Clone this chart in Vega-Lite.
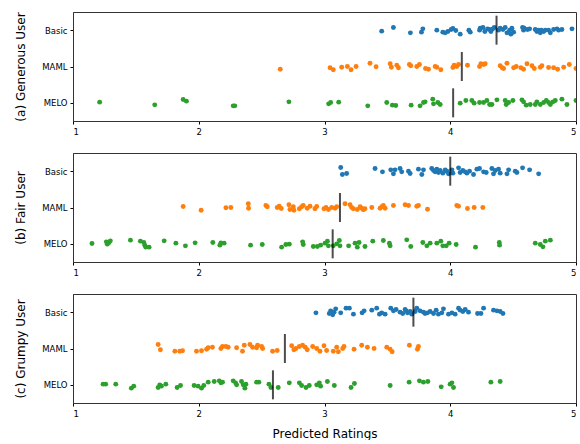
{
"$schema": "https://vega.github.io/schema/vega-lite/v6.json",
"padding": {"left": 14, "top": 11, "right": 4, "bottom": 0},
"background": "white",
"datasets": {
"means": [
{"user":"Generous","model":"Basic","mean":4.368},{"user":"Generous","model":"MAML","mean":4.092},{"user":"Generous","model":"MELO","mean":4.023},
{"user":"Fair","model":"Basic","mean":4.0},{"user":"Fair","model":"MAML","mean":3.123},{"user":"Fair","model":"MELO","mean":3.065},
{"user":"Grumpy","model":"Basic","mean":3.707},{"user":"Grumpy","model":"MAML","mean":2.685},{"user":"Grumpy","model":"MELO","mean":2.59}
],
"pts": [
{"user":"Generous","model":"Basic","rating":3.455,"jitter":0.25},
{"user":"Generous","model":"Basic","rating":3.548,"jitter":-0.67},
{"user":"Generous","model":"Basic","rating":3.683,"jitter":0.67},
{"user":"Generous","model":"Basic","rating":3.771,"jitter":0.5},
{"user":"Generous","model":"Basic","rating":3.782,"jitter":-0.33},
{"user":"Generous","model":"Basic","rating":3.893,"jitter":0},
{"user":"Generous","model":"Basic","rating":3.941,"jitter":0.5},
{"user":"Generous","model":"Basic","rating":3.96,"jitter":0.67},
{"user":"Generous","model":"Basic","rating":3.981,"jitter":0.33},
{"user":"Generous","model":"Basic","rating":4.007,"jitter":-0.17},
{"user":"Generous","model":"Basic","rating":4.021,"jitter":-0.42},
{"user":"Generous","model":"Basic","rating":4.044,"jitter":0.08},
{"user":"Generous","model":"Basic","rating":4.079,"jitter":1.0},
{"user":"Generous","model":"Basic","rating":4.148,"jitter":0},
{"user":"Generous","model":"Basic","rating":4.159,"jitter":0.5},
{"user":"Generous","model":"Basic","rating":4.233,"jitter":0},
{"user":"Generous","model":"Basic","rating":4.238,"jitter":-0.5},
{"user":"Generous","model":"Basic","rating":4.26,"jitter":-0.67},
{"user":"Generous","model":"Basic","rating":4.275,"jitter":0.33},
{"user":"Generous","model":"Basic","rating":4.297,"jitter":-0.33},
{"user":"Generous","model":"Basic","rating":4.313,"jitter":-0.17},
{"user":"Generous","model":"Basic","rating":4.323,"jitter":0.33},
{"user":"Generous","model":"Basic","rating":4.339,"jitter":-0.33},
{"user":"Generous","model":"Basic","rating":4.35,"jitter":-0.67},
{"user":"Generous","model":"Basic","rating":4.384,"jitter":0},
{"user":"Generous","model":"Basic","rating":4.397,"jitter":-0.5},
{"user":"Generous","model":"Basic","rating":4.419,"jitter":-0.17},
{"user":"Generous","model":"Basic","rating":4.437,"jitter":-0.67},
{"user":"Generous","model":"Basic","rating":4.451,"jitter":0.67},
{"user":"Generous","model":"Basic","rating":4.472,"jitter":0},
{"user":"Generous","model":"Basic","rating":4.482,"jitter":1.0},
{"user":"Generous","model":"Basic","rating":4.49,"jitter":-0.5},
{"user":"Generous","model":"Basic","rating":4.504,"jitter":0.5},
{"user":"Generous","model":"Basic","rating":4.575,"jitter":-0.67},
{"user":"Generous","model":"Basic","rating":4.583,"jitter":0},
{"user":"Generous","model":"Basic","rating":4.588,"jitter":-0.5},
{"user":"Generous","model":"Basic","rating":4.615,"jitter":-0.17},
{"user":"Generous","model":"Basic","rating":4.631,"jitter":-0.33},
{"user":"Generous","model":"Basic","rating":4.676,"jitter":-0.17},
{"user":"Generous","model":"Basic","rating":4.689,"jitter":0.33},
{"user":"Generous","model":"Basic","rating":4.703,"jitter":0},
{"user":"Generous","model":"Basic","rating":4.716,"jitter":0.67},
{"user":"Generous","model":"Basic","rating":4.724,"jitter":0},
{"user":"Generous","model":"Basic","rating":4.743,"jitter":0.33},
{"user":"Generous","model":"Basic","rating":4.756,"jitter":0},
{"user":"Generous","model":"Basic","rating":4.782,"jitter":0},
{"user":"Generous","model":"Basic","rating":4.796,"jitter":0.67},
{"user":"Generous","model":"Basic","rating":4.822,"jitter":-0.17},
{"user":"Generous","model":"Basic","rating":4.849,"jitter":-0.33},
{"user":"Generous","model":"Basic","rating":4.862,"jitter":0},
{"user":"Generous","model":"Basic","rating":4.888,"jitter":-0.17},
{"user":"Generous","model":"Basic","rating":4.968,"jitter":-0.33},
{"user":"Generous","model":"MAML","rating":2.648,"jitter":0.67},
{"user":"Generous","model":"MAML","rating":3.044,"jitter":0.33},
{"user":"Generous","model":"MAML","rating":3.07,"jitter":0.83},
{"user":"Generous","model":"MAML","rating":3.137,"jitter":0.17},
{"user":"Generous","model":"MAML","rating":3.182,"jitter":0},
{"user":"Generous","model":"MAML","rating":3.211,"jitter":0.83},
{"user":"Generous","model":"MAML","rating":3.251,"jitter":0},
{"user":"Generous","model":"MAML","rating":3.362,"jitter":-0.83},
{"user":"Generous","model":"MAML","rating":3.41,"jitter":0.08},
{"user":"Generous","model":"MAML","rating":3.522,"jitter":-0.67},
{"user":"Generous","model":"MAML","rating":3.532,"jitter":0.17},
{"user":"Generous","model":"MAML","rating":3.575,"jitter":-0.33},
{"user":"Generous","model":"MAML","rating":3.588,"jitter":0.33},
{"user":"Generous","model":"MAML","rating":3.675,"jitter":-0.5},
{"user":"Generous","model":"MAML","rating":3.686,"jitter":-0.17},
{"user":"Generous","model":"MAML","rating":3.734,"jitter":0},
{"user":"Generous","model":"MAML","rating":3.755,"jitter":-0.5},
{"user":"Generous","model":"MAML","rating":3.803,"jitter":0.5},
{"user":"Generous","model":"MAML","rating":3.827,"jitter":0.67},
{"user":"Generous","model":"MAML","rating":3.88,"jitter":0},
{"user":"Generous","model":"MAML","rating":3.893,"jitter":0.17},
{"user":"Generous","model":"MAML","rating":3.925,"jitter":0.83},
{"user":"Generous","model":"MAML","rating":4.021,"jitter":0.25},
{"user":"Generous","model":"MAML","rating":4.031,"jitter":-0.33},
{"user":"Generous","model":"MAML","rating":4.052,"jitter":0},
{"user":"Generous","model":"MAML","rating":4.066,"jitter":-0.5},
{"user":"Generous","model":"MAML","rating":4.137,"jitter":-0.33},
{"user":"Generous","model":"MAML","rating":4.233,"jitter":0},
{"user":"Generous","model":"MAML","rating":4.244,"jitter":-0.67},
{"user":"Generous","model":"MAML","rating":4.265,"jitter":-0.5},
{"user":"Generous","model":"MAML","rating":4.278,"jitter":-0.67},
{"user":"Generous","model":"MAML","rating":4.397,"jitter":-0.17},
{"user":"Generous","model":"MAML","rating":4.413,"jitter":0.33},
{"user":"Generous","model":"MAML","rating":4.424,"jitter":0.5},
{"user":"Generous","model":"MAML","rating":4.451,"jitter":-0.83},
{"user":"Generous","model":"MAML","rating":4.504,"jitter":0.33},
{"user":"Generous","model":"MAML","rating":4.525,"jitter":0},
{"user":"Generous","model":"MAML","rating":4.562,"jitter":0.33},
{"user":"Generous","model":"MAML","rating":4.583,"jitter":0.67},
{"user":"Generous","model":"MAML","rating":4.61,"jitter":-0.67},
{"user":"Generous","model":"MAML","rating":4.65,"jitter":-0.17},
{"user":"Generous","model":"MAML","rating":4.668,"jitter":0.5},
{"user":"Generous","model":"MAML","rating":4.716,"jitter":0.17},
{"user":"Generous","model":"MAML","rating":4.729,"jitter":-0.17},
{"user":"Generous","model":"MAML","rating":4.782,"jitter":0.25},
{"user":"Generous","model":"MAML","rating":4.822,"jitter":0.33},
{"user":"Generous","model":"MAML","rating":4.854,"jitter":0.67},
{"user":"Generous","model":"MAML","rating":4.902,"jitter":0.17},
{"user":"Generous","model":"MAML","rating":4.947,"jitter":-0.5},
{"user":"Generous","model":"MAML","rating":5.0,"jitter":0.5},
{"user":"Generous","model":"MELO","rating":1.212,"jitter":-0.17},
{"user":"Generous","model":"MELO","rating":1.65,"jitter":0.5},
{"user":"Generous","model":"MELO","rating":1.876,"jitter":-0.83},
{"user":"Generous","model":"MELO","rating":1.902,"jitter":-0.42},
{"user":"Generous","model":"MELO","rating":2.274,"jitter":0.75},
{"user":"Generous","model":"MELO","rating":2.287,"jitter":0.75},
{"user":"Generous","model":"MELO","rating":2.717,"jitter":-0.25},
{"user":"Generous","model":"MELO","rating":3.033,"jitter":0.25},
{"user":"Generous","model":"MELO","rating":3.049,"jitter":-0.08},
{"user":"Generous","model":"MELO","rating":3.113,"jitter":-0.17},
{"user":"Generous","model":"MELO","rating":3.344,"jitter":0.75},
{"user":"Generous","model":"MELO","rating":3.495,"jitter":-0.08},
{"user":"Generous","model":"MELO","rating":3.54,"jitter":0.58},
{"user":"Generous","model":"MELO","rating":3.567,"jitter":0.67},
{"user":"Generous","model":"MELO","rating":3.689,"jitter":0.58},
{"user":"Generous","model":"MELO","rating":3.76,"jitter":0.75},
{"user":"Generous","model":"MELO","rating":3.787,"jitter":-0.08},
{"user":"Generous","model":"MELO","rating":3.8,"jitter":-0.25},
{"user":"Generous","model":"MELO","rating":3.861,"jitter":-0.92},
{"user":"Generous","model":"MELO","rating":3.867,"jitter":0.25},
{"user":"Generous","model":"MELO","rating":3.901,"jitter":-0.08},
{"user":"Generous","model":"MELO","rating":3.92,"jitter":0.42},
{"user":"Generous","model":"MELO","rating":4.079,"jitter":0.08},
{"user":"Generous","model":"MELO","rating":4.124,"jitter":-0.58},
{"user":"Generous","model":"MELO","rating":4.172,"jitter":-0.58},
{"user":"Generous","model":"MELO","rating":4.19,"jitter":0.08},
{"user":"Generous","model":"MELO","rating":4.233,"jitter":-0.08},
{"user":"Generous","model":"MELO","rating":4.265,"jitter":-0.08},
{"user":"Generous","model":"MELO","rating":4.291,"jitter":-0.58},
{"user":"Generous","model":"MELO","rating":4.313,"jitter":0.42},
{"user":"Generous","model":"MELO","rating":4.331,"jitter":0.42},
{"user":"Generous","model":"MELO","rating":4.371,"jitter":-0.75},
{"user":"Generous","model":"MELO","rating":4.437,"jitter":-0.58},
{"user":"Generous","model":"MELO","rating":4.445,"jitter":0.42},
{"user":"Generous","model":"MELO","rating":4.464,"jitter":-0.08},
{"user":"Generous","model":"MELO","rating":4.498,"jitter":-0.58},
{"user":"Generous","model":"MELO","rating":4.57,"jitter":-0.75},
{"user":"Generous","model":"MELO","rating":4.583,"jitter":-0.25},
{"user":"Generous","model":"MELO","rating":4.604,"jitter":0.58},
{"user":"Generous","model":"MELO","rating":4.636,"jitter":0.42},
{"user":"Generous","model":"MELO","rating":4.676,"jitter":0.42},
{"user":"Generous","model":"MELO","rating":4.689,"jitter":-0.25},
{"user":"Generous","model":"MELO","rating":4.716,"jitter":0.42},
{"user":"Generous","model":"MELO","rating":4.743,"jitter":-0.08},
{"user":"Generous","model":"MELO","rating":4.764,"jitter":-0.58},
{"user":"Generous","model":"MELO","rating":4.782,"jitter":-0.08},
{"user":"Generous","model":"MELO","rating":4.796,"jitter":0.42},
{"user":"Generous","model":"MELO","rating":4.817,"jitter":-0.25},
{"user":"Generous","model":"MELO","rating":4.835,"jitter":-0.58},
{"user":"Generous","model":"MELO","rating":4.888,"jitter":-0.92},
{"user":"Generous","model":"MELO","rating":4.928,"jitter":0.42},
{"user":"Generous","model":"MELO","rating":5.0,"jitter":-0.58},
{"user":"Fair","model":"Basic","rating":3.129,"jitter":-0.92},
{"user":"Fair","model":"Basic","rating":3.142,"jitter":0.83},
{"user":"Fair","model":"Basic","rating":3.176,"jitter":0.58},
{"user":"Fair","model":"Basic","rating":3.402,"jitter":-0.67},
{"user":"Fair","model":"Basic","rating":3.461,"jitter":0.17},
{"user":"Fair","model":"Basic","rating":3.527,"jitter":-0.33},
{"user":"Fair","model":"Basic","rating":3.548,"jitter":0.67},
{"user":"Fair","model":"Basic","rating":3.561,"jitter":-0.33},
{"user":"Fair","model":"Basic","rating":3.601,"jitter":-0.67},
{"user":"Fair","model":"Basic","rating":3.614,"jitter":0.17},
{"user":"Fair","model":"Basic","rating":3.668,"jitter":0},
{"user":"Fair","model":"Basic","rating":3.681,"jitter":0.58},
{"user":"Fair","model":"Basic","rating":3.747,"jitter":-0.5},
{"user":"Fair","model":"Basic","rating":3.774,"jitter":0.83},
{"user":"Fair","model":"Basic","rating":3.787,"jitter":-0.33},
{"user":"Fair","model":"Basic","rating":3.853,"jitter":-0.67},
{"user":"Fair","model":"Basic","rating":3.867,"jitter":-0.17},
{"user":"Fair","model":"Basic","rating":3.88,"jitter":0.17},
{"user":"Fair","model":"Basic","rating":3.893,"jitter":-0.5},
{"user":"Fair","model":"Basic","rating":3.906,"jitter":0.33},
{"user":"Fair","model":"Basic","rating":3.92,"jitter":-0.17},
{"user":"Fair","model":"Basic","rating":3.941,"jitter":0.5},
{"user":"Fair","model":"Basic","rating":3.96,"jitter":-0.33},
{"user":"Fair","model":"Basic","rating":3.973,"jitter":0},
{"user":"Fair","model":"Basic","rating":3.986,"jitter":0.67},
{"user":"Fair","model":"Basic","rating":4.013,"jitter":-0.33},
{"user":"Fair","model":"Basic","rating":4.021,"jitter":0.5},
{"user":"Fair","model":"Basic","rating":4.066,"jitter":-0.83},
{"user":"Fair","model":"Basic","rating":4.079,"jitter":0.33},
{"user":"Fair","model":"Basic","rating":4.1,"jitter":-0.17},
{"user":"Fair","model":"Basic","rating":4.119,"jitter":0.17},
{"user":"Fair","model":"Basic","rating":4.132,"jitter":0.5},
{"user":"Fair","model":"Basic","rating":4.153,"jitter":0},
{"user":"Fair","model":"Basic","rating":4.185,"jitter":0.83},
{"user":"Fair","model":"Basic","rating":4.212,"jitter":-0.5},
{"user":"Fair","model":"Basic","rating":4.233,"jitter":-0.67},
{"user":"Fair","model":"Basic","rating":4.265,"jitter":0.17},
{"user":"Fair","model":"Basic","rating":4.286,"jitter":0.33},
{"user":"Fair","model":"Basic","rating":4.331,"jitter":-0.67},
{"user":"Fair","model":"Basic","rating":4.344,"jitter":0.67},
{"user":"Fair","model":"Basic","rating":4.358,"jitter":-0.17},
{"user":"Fair","model":"Basic","rating":4.384,"jitter":-0.5},
{"user":"Fair","model":"Basic","rating":4.397,"jitter":0.5},
{"user":"Fair","model":"Basic","rating":4.451,"jitter":0.67},
{"user":"Fair","model":"Basic","rating":4.464,"jitter":-0.33},
{"user":"Fair","model":"Basic","rating":4.517,"jitter":0},
{"user":"Fair","model":"Basic","rating":4.53,"jitter":0.33},
{"user":"Fair","model":"Basic","rating":4.575,"jitter":-0.83},
{"user":"Fair","model":"Basic","rating":4.631,"jitter":-0.33},
{"user":"Fair","model":"Basic","rating":4.703,"jitter":0.67},
{"user":"Fair","model":"MAML","rating":1.876,"jitter":-0.25},
{"user":"Fair","model":"MAML","rating":2.019,"jitter":0.67},
{"user":"Fair","model":"MAML","rating":2.216,"jitter":0.08},
{"user":"Fair","model":"MAML","rating":2.255,"jitter":0},
{"user":"Fair","model":"MAML","rating":2.394,"jitter":-0.92},
{"user":"Fair","model":"MAML","rating":2.396,"jitter":0.17},
{"user":"Fair","model":"MAML","rating":2.534,"jitter":-0.5},
{"user":"Fair","model":"MAML","rating":2.545,"jitter":-0.17},
{"user":"Fair","model":"MAML","rating":2.624,"jitter":0},
{"user":"Fair","model":"MAML","rating":2.64,"jitter":-0.33},
{"user":"Fair","model":"MAML","rating":2.656,"jitter":0.25},
{"user":"Fair","model":"MAML","rating":2.717,"jitter":-0.67},
{"user":"Fair","model":"MAML","rating":2.725,"jitter":0.5},
{"user":"Fair","model":"MAML","rating":2.752,"jitter":-0.17},
{"user":"Fair","model":"MAML","rating":2.757,"jitter":0.67},
{"user":"Fair","model":"MAML","rating":2.8,"jitter":0.33},
{"user":"Fair","model":"MAML","rating":2.818,"jitter":-0.17},
{"user":"Fair","model":"MAML","rating":2.831,"jitter":-0.5},
{"user":"Fair","model":"MAML","rating":2.863,"jitter":0.17},
{"user":"Fair","model":"MAML","rating":2.885,"jitter":-0.33},
{"user":"Fair","model":"MAML","rating":2.924,"jitter":0.33},
{"user":"Fair","model":"MAML","rating":2.938,"jitter":-0.25},
{"user":"Fair","model":"MAML","rating":2.996,"jitter":0.33},
{"user":"Fair","model":"MAML","rating":3.012,"jitter":0},
{"user":"Fair","model":"MAML","rating":3.031,"jitter":0.5},
{"user":"Fair","model":"MAML","rating":3.057,"jitter":0},
{"user":"Fair","model":"MAML","rating":3.084,"jitter":0.17},
{"user":"Fair","model":"MAML","rating":3.097,"jitter":-0.17},
{"user":"Fair","model":"MAML","rating":3.163,"jitter":-0.92},
{"user":"Fair","model":"MAML","rating":3.203,"jitter":-0.67},
{"user":"Fair","model":"MAML","rating":3.216,"jitter":0},
{"user":"Fair","model":"MAML","rating":3.23,"jitter":0.33},
{"user":"Fair","model":"MAML","rating":3.261,"jitter":0.5},
{"user":"Fair","model":"MAML","rating":3.283,"jitter":-0.17},
{"user":"Fair","model":"MAML","rating":3.296,"jitter":0.17},
{"user":"Fair","model":"MAML","rating":3.309,"jitter":0.58},
{"user":"Fair","model":"MAML","rating":3.322,"jitter":0.33},
{"user":"Fair","model":"MAML","rating":3.376,"jitter":0},
{"user":"Fair","model":"MAML","rating":3.442,"jitter":0.17},
{"user":"Fair","model":"MAML","rating":3.455,"jitter":-0.17},
{"user":"Fair","model":"MAML","rating":3.468,"jitter":-0.5},
{"user":"Fair","model":"MAML","rating":3.482,"jitter":0.17},
{"user":"Fair","model":"MAML","rating":3.548,"jitter":-0.5},
{"user":"Fair","model":"MAML","rating":3.641,"jitter":-0.67},
{"user":"Fair","model":"MAML","rating":3.668,"jitter":-0.5},
{"user":"Fair","model":"MAML","rating":3.734,"jitter":-0.33},
{"user":"Fair","model":"MAML","rating":3.747,"jitter":-0.5},
{"user":"Fair","model":"MAML","rating":3.819,"jitter":0.42},
{"user":"Fair","model":"MAML","rating":4.052,"jitter":-0.5},
{"user":"Fair","model":"MAML","rating":4.066,"jitter":-0.33},
{"user":"Fair","model":"MAML","rating":4.137,"jitter":0.25},
{"user":"Fair","model":"MAML","rating":4.19,"jitter":0},
{"user":"Fair","model":"MAML","rating":4.259,"jitter":0},
{"user":"Fair","model":"MELO","rating":1.151,"jitter":-0.08},
{"user":"Fair","model":"MELO","rating":1.265,"jitter":-0.5},
{"user":"Fair","model":"MELO","rating":1.273,"jitter":0.08},
{"user":"Fair","model":"MELO","rating":1.287,"jitter":-0.33},
{"user":"Fair","model":"MELO","rating":1.297,"jitter":-0.75},
{"user":"Fair","model":"MELO","rating":1.457,"jitter":-0.92},
{"user":"Fair","model":"MELO","rating":1.536,"jitter":-0.67},
{"user":"Fair","model":"MELO","rating":1.563,"jitter":-0.33},
{"user":"Fair","model":"MELO","rating":1.571,"jitter":0.33},
{"user":"Fair","model":"MELO","rating":1.579,"jitter":0.83},
{"user":"Fair","model":"MELO","rating":1.605,"jitter":0.83},
{"user":"Fair","model":"MELO","rating":1.725,"jitter":-0.75},
{"user":"Fair","model":"MELO","rating":1.818,"jitter":-0.17},
{"user":"Fair","model":"MELO","rating":1.894,"jitter":0.5},
{"user":"Fair","model":"MELO","rating":1.971,"jitter":-0.25},
{"user":"Fair","model":"MELO","rating":2.112,"jitter":-0.33},
{"user":"Fair","model":"MELO","rating":2.168,"jitter":0.33},
{"user":"Fair","model":"MELO","rating":2.176,"jitter":-0.25},
{"user":"Fair","model":"MELO","rating":2.202,"jitter":-0.17},
{"user":"Fair","model":"MELO","rating":2.412,"jitter":0.33},
{"user":"Fair","model":"MELO","rating":2.505,"jitter":0.17},
{"user":"Fair","model":"MELO","rating":2.659,"jitter":0.83},
{"user":"Fair","model":"MELO","rating":2.693,"jitter":0.17},
{"user":"Fair","model":"MELO","rating":2.72,"jitter":0.08},
{"user":"Fair","model":"MELO","rating":2.826,"jitter":-0.5},
{"user":"Fair","model":"MELO","rating":2.831,"jitter":0.17},
{"user":"Fair","model":"MELO","rating":2.911,"jitter":0.67},
{"user":"Fair","model":"MELO","rating":2.943,"jitter":0.67},
{"user":"Fair","model":"MELO","rating":2.969,"jitter":0.33},
{"user":"Fair","model":"MELO","rating":3.004,"jitter":-0.17},
{"user":"Fair","model":"MELO","rating":3.023,"jitter":-0.67},
{"user":"Fair","model":"MELO","rating":3.031,"jitter":0.5},
{"user":"Fair","model":"MELO","rating":3.07,"jitter":0.5},
{"user":"Fair","model":"MELO","rating":3.097,"jitter":0},
{"user":"Fair","model":"MELO","rating":3.118,"jitter":-0.83},
{"user":"Fair","model":"MELO","rating":3.123,"jitter":0.5},
{"user":"Fair","model":"MELO","rating":3.192,"jitter":0.5},
{"user":"Fair","model":"MELO","rating":3.243,"jitter":-0.17},
{"user":"Fair","model":"MELO","rating":3.261,"jitter":0.83},
{"user":"Fair","model":"MELO","rating":3.275,"jitter":-0.33},
{"user":"Fair","model":"MELO","rating":3.322,"jitter":0.67},
{"user":"Fair","model":"MELO","rating":3.384,"jitter":-0.67},
{"user":"Fair","model":"MELO","rating":3.468,"jitter":-0.83},
{"user":"Fair","model":"MELO","rating":3.516,"jitter":-0.17},
{"user":"Fair","model":"MELO","rating":3.522,"jitter":0.5},
{"user":"Fair","model":"MELO","rating":3.654,"jitter":-1.0},
{"user":"Fair","model":"MELO","rating":3.686,"jitter":0.67},
{"user":"Fair","model":"MELO","rating":3.782,"jitter":-0.33},
{"user":"Fair","model":"MELO","rating":3.814,"jitter":0.5},
{"user":"Fair","model":"MELO","rating":3.84,"jitter":-0.17},
{"user":"Fair","model":"MELO","rating":3.893,"jitter":-0.17},
{"user":"Fair","model":"MELO","rating":3.925,"jitter":-0.67},
{"user":"Fair","model":"MELO","rating":3.941,"jitter":0.5},
{"user":"Fair","model":"MELO","rating":3.968,"jitter":0.5},
{"user":"Fair","model":"MELO","rating":3.991,"jitter":-0.17},
{"user":"Fair","model":"MELO","rating":4.047,"jitter":0.17},
{"user":"Fair","model":"MELO","rating":4.201,"jitter":0.83},
{"user":"Fair","model":"MELO","rating":4.39,"jitter":-0.33},
{"user":"Fair","model":"MELO","rating":4.392,"jitter":0.33},
{"user":"Fair","model":"MELO","rating":4.676,"jitter":-0.17},
{"user":"Fair","model":"MELO","rating":4.716,"jitter":0.17},
{"user":"Fair","model":"MELO","rating":4.737,"jitter":0.75},
{"user":"Fair","model":"MELO","rating":4.756,"jitter":-0.67},
{"user":"Fair","model":"MELO","rating":4.796,"jitter":-0.92},
{"user":"Grumpy","model":"Basic","rating":2.932,"jitter":0.17},
{"user":"Grumpy","model":"Basic","rating":3.038,"jitter":0.33},
{"user":"Grumpy","model":"Basic","rating":3.049,"jitter":-0.33},
{"user":"Grumpy","model":"Basic","rating":3.065,"jitter":0.67},
{"user":"Grumpy","model":"Basic","rating":3.076,"jitter":0},
{"user":"Grumpy","model":"Basic","rating":3.089,"jitter":-0.83},
{"user":"Grumpy","model":"Basic","rating":3.129,"jitter":0.17},
{"user":"Grumpy","model":"Basic","rating":3.171,"jitter":-1.0},
{"user":"Grumpy","model":"Basic","rating":3.198,"jitter":-1.0},
{"user":"Grumpy","model":"Basic","rating":3.23,"jitter":0.5},
{"user":"Grumpy","model":"Basic","rating":3.299,"jitter":0.17},
{"user":"Grumpy","model":"Basic","rating":3.315,"jitter":-0.33},
{"user":"Grumpy","model":"Basic","rating":3.376,"jitter":-0.5},
{"user":"Grumpy","model":"Basic","rating":3.415,"jitter":-1.0},
{"user":"Grumpy","model":"Basic","rating":3.437,"jitter":0.5},
{"user":"Grumpy","model":"Basic","rating":3.455,"jitter":0.17},
{"user":"Grumpy","model":"Basic","rating":3.482,"jitter":0.5},
{"user":"Grumpy","model":"Basic","rating":3.527,"jitter":-1.0},
{"user":"Grumpy","model":"Basic","rating":3.548,"jitter":-0.33},
{"user":"Grumpy","model":"Basic","rating":3.569,"jitter":-0.67},
{"user":"Grumpy","model":"Basic","rating":3.601,"jitter":0},
{"user":"Grumpy","model":"Basic","rating":3.622,"jitter":0.33},
{"user":"Grumpy","model":"Basic","rating":3.641,"jitter":-0.67},
{"user":"Grumpy","model":"Basic","rating":3.649,"jitter":-0.33},
{"user":"Grumpy","model":"Basic","rating":3.66,"jitter":0.17},
{"user":"Grumpy","model":"Basic","rating":3.681,"jitter":-0.17},
{"user":"Grumpy","model":"Basic","rating":3.694,"jitter":0.5},
{"user":"Grumpy","model":"Basic","rating":3.721,"jitter":-0.17},
{"user":"Grumpy","model":"Basic","rating":3.734,"jitter":-1.0},
{"user":"Grumpy","model":"Basic","rating":3.76,"jitter":-0.33},
{"user":"Grumpy","model":"Basic","rating":3.787,"jitter":0},
{"user":"Grumpy","model":"Basic","rating":3.8,"jitter":0.33},
{"user":"Grumpy","model":"Basic","rating":3.819,"jitter":0.17},
{"user":"Grumpy","model":"Basic","rating":3.84,"jitter":-0.17},
{"user":"Grumpy","model":"Basic","rating":3.867,"jitter":0.33},
{"user":"Grumpy","model":"Basic","rating":3.888,"jitter":-0.5},
{"user":"Grumpy","model":"Basic","rating":3.906,"jitter":0.5},
{"user":"Grumpy","model":"Basic","rating":3.933,"jitter":0.17},
{"user":"Grumpy","model":"Basic","rating":3.946,"jitter":-0.83},
{"user":"Grumpy","model":"Basic","rating":3.986,"jitter":0.5},
{"user":"Grumpy","model":"Basic","rating":4.013,"jitter":0.17},
{"user":"Grumpy","model":"Basic","rating":4.039,"jitter":0.5},
{"user":"Grumpy","model":"Basic","rating":4.066,"jitter":-1.0},
{"user":"Grumpy","model":"Basic","rating":4.079,"jitter":-0.5},
{"user":"Grumpy","model":"Basic","rating":4.1,"jitter":-0.17},
{"user":"Grumpy","model":"Basic","rating":4.119,"jitter":-0.67},
{"user":"Grumpy","model":"Basic","rating":4.145,"jitter":0},
{"user":"Grumpy","model":"Basic","rating":4.217,"jitter":0.33},
{"user":"Grumpy","model":"Basic","rating":4.244,"jitter":0.33},
{"user":"Grumpy","model":"Basic","rating":4.265,"jitter":-1.0},
{"user":"Grumpy","model":"Basic","rating":4.344,"jitter":-0.5},
{"user":"Grumpy","model":"Basic","rating":4.371,"jitter":-0.33},
{"user":"Grumpy","model":"Basic","rating":4.397,"jitter":-0.17},
{"user":"Grumpy","model":"Basic","rating":4.419,"jitter":0.33},
{"user":"Grumpy","model":"MAML","rating":1.677,"jitter":-1.0},
{"user":"Grumpy","model":"MAML","rating":1.695,"jitter":0.33},
{"user":"Grumpy","model":"MAML","rating":1.81,"jitter":0.67},
{"user":"Grumpy","model":"MAML","rating":1.849,"jitter":0.67},
{"user":"Grumpy","model":"MAML","rating":1.871,"jitter":0.58},
{"user":"Grumpy","model":"MAML","rating":1.982,"jitter":0.67},
{"user":"Grumpy","model":"MAML","rating":2.022,"jitter":0.58},
{"user":"Grumpy","model":"MAML","rating":2.062,"jitter":0.17},
{"user":"Grumpy","model":"MAML","rating":2.075,"jitter":-0.17},
{"user":"Grumpy","model":"MAML","rating":2.109,"jitter":-0.33},
{"user":"Grumpy","model":"MAML","rating":2.176,"jitter":0},
{"user":"Grumpy","model":"MAML","rating":2.189,"jitter":-0.5},
{"user":"Grumpy","model":"MAML","rating":2.216,"jitter":-0.5},
{"user":"Grumpy","model":"MAML","rating":2.234,"jitter":-0.33},
{"user":"Grumpy","model":"MAML","rating":2.301,"jitter":-0.17},
{"user":"Grumpy","model":"MAML","rating":2.348,"jitter":0.67},
{"user":"Grumpy","model":"MAML","rating":2.362,"jitter":-0.83},
{"user":"Grumpy","model":"MAML","rating":2.407,"jitter":-1.0},
{"user":"Grumpy","model":"MAML","rating":2.428,"jitter":-0.33},
{"user":"Grumpy","model":"MAML","rating":2.46,"jitter":-0.17},
{"user":"Grumpy","model":"MAML","rating":2.468,"jitter":-0.83},
{"user":"Grumpy","model":"MAML","rating":2.5,"jitter":-0.5},
{"user":"Grumpy","model":"MAML","rating":2.508,"jitter":0},
{"user":"Grumpy","model":"MAML","rating":2.587,"jitter":0.67},
{"user":"Grumpy","model":"MAML","rating":2.624,"jitter":0.5},
{"user":"Grumpy","model":"MAML","rating":2.739,"jitter":-0.67},
{"user":"Grumpy","model":"MAML","rating":2.757,"jitter":0.33},
{"user":"Grumpy","model":"MAML","rating":2.773,"jitter":0},
{"user":"Grumpy","model":"MAML","rating":2.8,"jitter":-0.5},
{"user":"Grumpy","model":"MAML","rating":2.826,"jitter":-0.83},
{"user":"Grumpy","model":"MAML","rating":2.847,"jitter":-0.33},
{"user":"Grumpy","model":"MAML","rating":2.863,"jitter":0.33},
{"user":"Grumpy","model":"MAML","rating":2.906,"jitter":-0.5},
{"user":"Grumpy","model":"MAML","rating":2.938,"jitter":0},
{"user":"Grumpy","model":"MAML","rating":2.964,"jitter":0.67},
{"user":"Grumpy","model":"MAML","rating":2.996,"jitter":-0.67},
{"user":"Grumpy","model":"MAML","rating":3.017,"jitter":0.5},
{"user":"Grumpy","model":"MAML","rating":3.07,"jitter":0.67},
{"user":"Grumpy","model":"MAML","rating":3.097,"jitter":-0.33},
{"user":"Grumpy","model":"MAML","rating":3.11,"jitter":0.83},
{"user":"Grumpy","model":"MAML","rating":3.145,"jitter":0},
{"user":"Grumpy","model":"MAML","rating":3.155,"jitter":-0.5},
{"user":"Grumpy","model":"MAML","rating":3.235,"jitter":0.17},
{"user":"Grumpy","model":"MAML","rating":3.296,"jitter":-0.83},
{"user":"Grumpy","model":"MAML","rating":3.341,"jitter":-0.33},
{"user":"Grumpy","model":"MAML","rating":3.394,"jitter":0},
{"user":"Grumpy","model":"MAML","rating":3.495,"jitter":-0.33},
{"user":"Grumpy","model":"MAML","rating":3.522,"jitter":0.17},
{"user":"Grumpy","model":"MAML","rating":3.538,"jitter":0.83},
{"user":"Grumpy","model":"MAML","rating":3.675,"jitter":-0.83},
{"user":"Grumpy","model":"MAML","rating":3.739,"jitter":0.17},
{"user":"Grumpy","model":"MAML","rating":3.747,"jitter":-0.5},
{"user":"Grumpy","model":"MELO","rating":1.239,"jitter":-0.17},
{"user":"Grumpy","model":"MELO","rating":1.26,"jitter":-0.17},
{"user":"Grumpy","model":"MELO","rating":1.34,"jitter":-0.17},
{"user":"Grumpy","model":"MELO","rating":1.464,"jitter":0.83},
{"user":"Grumpy","model":"MELO","rating":1.483,"jitter":0.33},
{"user":"Grumpy","model":"MELO","rating":1.677,"jitter":0.67},
{"user":"Grumpy","model":"MELO","rating":1.69,"jitter":0},
{"user":"Grumpy","model":"MELO","rating":1.703,"jitter":0.33},
{"user":"Grumpy","model":"MELO","rating":1.738,"jitter":-0.17},
{"user":"Grumpy","model":"MELO","rating":1.828,"jitter":0.67},
{"user":"Grumpy","model":"MELO","rating":1.855,"jitter":0.17},
{"user":"Grumpy","model":"MELO","rating":1.963,"jitter":0.17},
{"user":"Grumpy","model":"MELO","rating":1.995,"jitter":0.33},
{"user":"Grumpy","model":"MELO","rating":2.022,"jitter":0.83},
{"user":"Grumpy","model":"MELO","rating":2.04,"jitter":0.17},
{"user":"Grumpy","model":"MELO","rating":2.075,"jitter":-0.67},
{"user":"Grumpy","model":"MELO","rating":2.123,"jitter":-0.83},
{"user":"Grumpy","model":"MELO","rating":2.163,"jitter":-1.0},
{"user":"Grumpy","model":"MELO","rating":2.176,"jitter":-0.5},
{"user":"Grumpy","model":"MELO","rating":2.189,"jitter":-0.67},
{"user":"Grumpy","model":"MELO","rating":2.274,"jitter":-1.0},
{"user":"Grumpy","model":"MELO","rating":2.293,"jitter":-0.5},
{"user":"Grumpy","model":"MELO","rating":2.301,"jitter":0},
{"user":"Grumpy","model":"MELO","rating":2.34,"jitter":-0.83},
{"user":"Grumpy","model":"MELO","rating":2.354,"jitter":0},
{"user":"Grumpy","model":"MELO","rating":2.367,"jitter":0.83},
{"user":"Grumpy","model":"MELO","rating":2.375,"jitter":-0.17},
{"user":"Grumpy","model":"MELO","rating":2.46,"jitter":-0.67},
{"user":"Grumpy","model":"MELO","rating":2.478,"jitter":-0.67},
{"user":"Grumpy","model":"MELO","rating":2.558,"jitter":-0.17},
{"user":"Grumpy","model":"MELO","rating":2.574,"jitter":0.67},
{"user":"Grumpy","model":"MELO","rating":2.632,"jitter":0.67},
{"user":"Grumpy","model":"MELO","rating":2.72,"jitter":-0.5},
{"user":"Grumpy","model":"MELO","rating":2.8,"jitter":-0.5},
{"user":"Grumpy","model":"MELO","rating":2.818,"jitter":0.17},
{"user":"Grumpy","model":"MELO","rating":2.853,"jitter":0.67},
{"user":"Grumpy","model":"MELO","rating":2.879,"jitter":0.17},
{"user":"Grumpy","model":"MELO","rating":2.938,"jitter":0},
{"user":"Grumpy","model":"MELO","rating":2.959,"jitter":-0.5},
{"user":"Grumpy","model":"MELO","rating":2.969,"jitter":0.33},
{"user":"Grumpy","model":"MELO","rating":3.023,"jitter":-0.83},
{"user":"Grumpy","model":"MELO","rating":3.078,"jitter":0.17},
{"user":"Grumpy","model":"MELO","rating":3.211,"jitter":0.67},
{"user":"Grumpy","model":"MELO","rating":3.238,"jitter":-0.33},
{"user":"Grumpy","model":"MELO","rating":3.522,"jitter":0.17},
{"user":"Grumpy","model":"MELO","rating":3.673,"jitter":-0.67},
{"user":"Grumpy","model":"MELO","rating":3.755,"jitter":-1.0},
{"user":"Grumpy","model":"MELO","rating":3.787,"jitter":-0.67},
{"user":"Grumpy","model":"MELO","rating":3.822,"jitter":-0.83},
{"user":"Grumpy","model":"MELO","rating":3.928,"jitter":0.5},
{"user":"Grumpy","model":"MELO","rating":3.999,"jitter":-0.17},
{"user":"Grumpy","model":"MELO","rating":4.013,"jitter":-0.5},
{"user":"Grumpy","model":"MELO","rating":4.026,"jitter":0.67},
{"user":"Grumpy","model":"MELO","rating":4.323,"jitter":-0.67},
{"user":"Grumpy","model":"MELO","rating":4.397,"jitter":-0.83}
]
},
"spacing": 16,
"vconcat": [
{
"width": 503, "height": 109,
"layer": [
{"data": {"name": "pts"}, "transform": [{"filter": {"field": "user", "equal": "Generous"}}],
 "mark": {"type": "circle", "size": 24, "opacity": 1, "clip": true},
 "encoding": {
  "x": {"field": "rating", "type": "quantitative", "scale": {"domain": [1, 5], "nice": false, "zero": false}, "axis": {"values": [1,2,3,4,5], "format": "d", "title": null}},
  "y": {"field": "model", "type": "nominal", "sort": ["Basic","MAML","MELO"], "scale": {"type": "point", "padding": 0.5}, "axis": {"title": "(a) Generous User"}},
  "yOffset": {"field": "jitter", "type": "quantitative", "scale": {"domain": [-1, 1], "range": [-4, 4]}},
  "color": {"field": "model", "type": "nominal", "scale": {"domain": ["Basic","MAML","MELO"], "range": ["#1f77b4","#ff7f0e","#2ca02c"]}, "legend": null}
 }},
{"data": {"name": "means"}, "transform": [{"filter": {"field": "user", "equal": "Generous"}}],
 "mark": {"type": "tick", "color": "black", "thickness": 2, "size": 29, "orient": "vertical"},
 "encoding": {
  "x": {"field": "mean", "type": "quantitative"},
  "y": {"field": "model", "type": "nominal", "sort": ["Basic","MAML","MELO"]}
 }}
]
},
{
"width": 503, "height": 109,
"layer": [
{"data": {"name": "pts"}, "transform": [{"filter": {"field": "user", "equal": "Fair"}}],
 "mark": {"type": "circle", "size": 24, "opacity": 1, "clip": true},
 "encoding": {
  "x": {"field": "rating", "type": "quantitative", "scale": {"domain": [1, 5], "nice": false, "zero": false}, "axis": {"values": [1,2,3,4,5], "format": "d", "title": null}},
  "y": {"field": "model", "type": "nominal", "sort": ["Basic","MAML","MELO"], "scale": {"type": "point", "padding": 0.5}, "axis": {"title": "(b) Fair User"}},
  "yOffset": {"field": "jitter", "type": "quantitative", "scale": {"domain": [-1, 1], "range": [-4, 4]}},
  "color": {"field": "model", "type": "nominal", "scale": {"domain": ["Basic","MAML","MELO"], "range": ["#1f77b4","#ff7f0e","#2ca02c"]}, "legend": null}
 }},
{"data": {"name": "means"}, "transform": [{"filter": {"field": "user", "equal": "Fair"}}],
 "mark": {"type": "tick", "color": "black", "thickness": 2, "size": 29, "orient": "vertical"},
 "encoding": {
  "x": {"field": "mean", "type": "quantitative"},
  "y": {"field": "model", "type": "nominal", "sort": ["Basic","MAML","MELO"]}
 }}
]
},
{
"width": 503, "height": 109,
"layer": [
{"data": {"name": "pts"}, "transform": [{"filter": {"field": "user", "equal": "Grumpy"}}],
 "mark": {"type": "circle", "size": 24, "opacity": 1, "clip": true},
 "encoding": {
  "x": {"field": "rating", "type": "quantitative", "scale": {"domain": [1, 5], "nice": false, "zero": false}, "axis": {"values": [1,2,3,4,5], "format": "d", "title": "Predicted Ratings", "titlePadding": 11}},
  "y": {"field": "model", "type": "nominal", "sort": ["Basic","MAML","MELO"], "scale": {"type": "point", "padding": 0.5}, "axis": {"title": "(c) Grumpy User"}},
  "yOffset": {"field": "jitter", "type": "quantitative", "scale": {"domain": [-1, 1], "range": [-4, 4]}},
  "color": {"field": "model", "type": "nominal", "scale": {"domain": ["Basic","MAML","MELO"], "range": ["#1f77b4","#ff7f0e","#2ca02c"]}, "legend": null}
 }},
{"data": {"name": "means"}, "transform": [{"filter": {"field": "user", "equal": "Grumpy"}}],
 "mark": {"type": "tick", "color": "black", "thickness": 2, "size": 29, "orient": "vertical"},
 "encoding": {
  "x": {"field": "mean", "type": "quantitative"},
  "y": {"field": "model", "type": "nominal", "sort": ["Basic","MAML","MELO"]}
 }}
]
}
],
"config": {
 "font": "DejaVu Sans",
 "view": {"stroke": "#333", "strokeWidth": 1},
 "axis": {"grid": false, "labelFontSize": 8.5, "labelColor": "#000", "titleFontSize": 12, "titleFontWeight": "normal", "titleColor": "#000", "tickColor": "#000", "tickSize": 3, "domainColor": "#333", "labelPadding": 3, "titlePadding": 14}
}
}
